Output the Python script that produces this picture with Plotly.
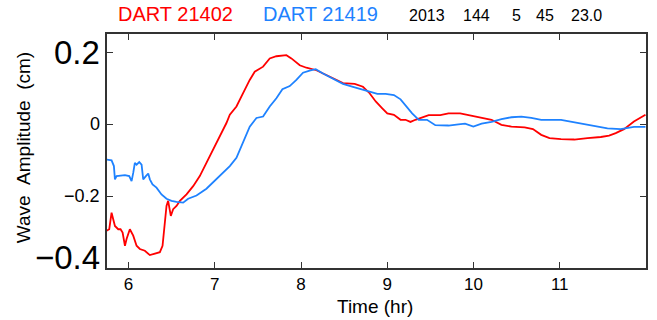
import plotly.graph_objects as go

# DART 21402 (red)
t_21402 = [5.745, 5.776, 5.803, 5.822, 5.842, 5.880, 5.907, 5.931, 5.958, 5.977, 6.015, 6.054,
           6.093, 6.131, 6.189, 6.247, 6.305, 6.363, 6.394, 6.421, 6.440, 6.459, 6.479, 6.490,
           6.517, 6.556, 6.595, 6.672, 6.749, 6.826, 6.903, 6.981, 7.058, 7.135, 7.174, 7.251,
           7.328, 7.405, 7.463, 7.560, 7.637, 7.714, 7.830, 7.888, 7.985, 8.062, 8.178, 8.332,
           8.486, 8.622, 8.718, 8.795, 8.866, 8.942, 9.000, 9.077, 9.154, 9.211, 9.269, 9.326,
           9.403, 9.480, 9.614, 9.710, 9.845, 9.940, 10.094, 10.209, 10.324, 10.440, 10.593,
           10.689, 10.785, 10.881, 11.015, 11.169, 11.322, 11.476, 11.572, 11.649, 11.745,
           11.860, 11.994]
v_21402 = [-0.296, -0.292, -0.246, -0.264, -0.283, -0.292, -0.292, -0.301, -0.338, -0.319, -0.292, -0.310,
           -0.338, -0.347, -0.352, -0.364, -0.361, -0.356, -0.338, -0.273, -0.227, -0.213, -0.236, -0.255,
           -0.236, -0.227, -0.213, -0.195, -0.172, -0.144, -0.107, -0.070, -0.033, 0.004, 0.027, 0.050,
           0.087, 0.124, 0.147, 0.161, 0.184, 0.190, 0.193, 0.184, 0.165, 0.158, 0.151, 0.133,
           0.115, 0.113, 0.105, 0.087, 0.064, 0.045, 0.031, 0.027, 0.013, 0.013, 0.007, 0.013,
           0.020, 0.026, 0.026, 0.031, 0.031, 0.026, 0.020, 0.013, -0.001, -0.006, -0.008,
           -0.013, -0.029, -0.038, -0.041, -0.042, -0.038, -0.035, -0.031, -0.024, -0.013,
           0.008, 0.027]

# DART 21419 (blue)
t_21419 = [5.745, 5.803, 5.830, 5.842, 5.861, 5.900, 5.958, 6.008, 6.035, 6.054, 6.073, 6.093,
           6.124, 6.151, 6.170, 6.201, 6.228, 6.247, 6.278, 6.324, 6.382, 6.440, 6.498, 6.556,
           6.633, 6.691, 6.788, 6.903, 7.019, 7.097, 7.174, 7.251, 7.328, 7.405, 7.483, 7.560,
           7.637, 7.714, 7.784, 7.869, 7.946, 8.023, 8.100, 8.170, 8.255, 8.371, 8.486, 8.602,
           8.718, 8.834, 8.885, 8.981, 9.077, 9.154, 9.211, 9.288, 9.365, 9.461, 9.557, 9.710,
           9.825, 9.902, 9.998, 10.094, 10.209, 10.324, 10.440, 10.555, 10.670, 10.785, 11.015,
           11.169, 11.399, 11.553, 11.706, 11.860, 11.994]
v_21419 = [-0.098, -0.100, -0.116, -0.153, -0.144, -0.142, -0.141, -0.144, -0.158, -0.135, -0.107, -0.112,
           -0.105, -0.112, -0.153, -0.144, -0.137, -0.153, -0.167, -0.176, -0.195, -0.207, -0.213, -0.216,
           -0.218, -0.207, -0.198, -0.179, -0.153, -0.135, -0.116, -0.093, -0.052, -0.006, 0.018, 0.022,
           0.050, 0.073, 0.098, 0.107, 0.124, 0.144, 0.150, 0.154, 0.142, 0.128, 0.113, 0.105,
           0.096, 0.089, 0.085, 0.085, 0.082, 0.070, 0.052, 0.031, 0.013, 0.013, -0.002, -0.003,
           0.000, 0.002, -0.006, 0.002, 0.007, 0.015, 0.020, 0.022, 0.018, 0.013, 0.013,
           0.006, -0.004, -0.011, -0.013, -0.007, -0.007]

x_ticks = [6, 7, 8, 9, 10, 11]
y_ticks = [0.2, 0, -0.2, -0.4]
y_ticklabels = ["0.2", "0", "\u22120.2", "\u22120.4"]
y_ticklabel_sizes = [33, 18, 18, 33]
header_words = ["2013", "144", "5", "45", "23.0"]
header_px = [428, 478, 518, 547, 588]

FONT = "Liberation Sans, Arial, sans-serif"
RED = "#ff0000"
BLUE = "#1e82ff"

L, R, T, B, W, H = 107, 9, 34, 52, 657, 320
PW, PH = W - L - R, H - T - B


def px_to_paper(px, py):
    return (px - L) / PW, (H - B - py) / PH


fig = go.Figure()
fig.add_trace(go.Scatter(x=t_21402, y=v_21402, mode="lines",
                         line=dict(color=RED, width=1.8), name="DART 21402"))
fig.add_trace(go.Scatter(x=t_21419, y=v_21419, mode="lines",
                         line=dict(color=BLUE, width=1.8), name="DART 21419"))

axis_common = dict(showline=True, linecolor="#333333", linewidth=1.5, mirror="allticks",
                   ticks="inside", ticklen=6, tickcolor="#333333", tickwidth=1.2,
                   showgrid=False, zeroline=False)

fig.update_xaxes(range=[5.75, 12.0], tickvals=x_ticks,
                 tickfont=dict(family=FONT, size=17, color="black"),
                 **axis_common)
fig.update_yaxes(range=[-0.4, 0.252], tickvals=y_ticks[:3], showticklabels=False,
                 **axis_common)

annotations = []
for yv, lab, sz in zip(y_ticks, y_ticklabels, y_ticklabel_sizes):
    yy = yv if yv > -0.35 else -0.372
    annotations.append(dict(x=0, xref="paper", xanchor="right", xshift=-5,
                            y=yy, yref="y", yanchor="middle", text=lab, showarrow=False,
                            font=dict(family=FONT, size=sz, color="black")))

ax, ay = px_to_paper(23, 148)
annotations.append(dict(x=ax, y=ay, xref="paper", yref="paper", xanchor="center", yanchor="middle",
                        text="Wave&nbsp;&nbsp;Amplitude&nbsp;&nbsp;(cm)", showarrow=False,
                        textangle=-90,
                        font=dict(family=FONT, size=19, color="black")))
ax, ay = px_to_paper(376, 306)
annotations.append(dict(x=ax, y=ay, xref="paper", yref="paper", xanchor="center", yanchor="middle",
                        text="Time (hr)", showarrow=False,
                        font=dict(family=FONT, size=19, color="black")))

ax, ay = px_to_paper(176, 14)
annotations.append(dict(x=ax, y=ay, xref="paper", yref="paper", xanchor="center", yanchor="middle",
                        text="DART 21402", showarrow=False,
                        font=dict(family=FONT, size=20, color=RED)))
ax, ay = px_to_paper(321, 14)
annotations.append(dict(x=ax, y=ay, xref="paper", yref="paper", xanchor="center", yanchor="middle",
                        text="DART 21419", showarrow=False,
                        font=dict(family=FONT, size=20, color=BLUE)))
for w, hx in zip(header_words, header_px):
    ax, ay = px_to_paper(hx, 15)
    annotations.append(dict(x=ax, y=ay, xref="paper", yref="paper", xanchor="center",
                            yanchor="middle", text=w, showarrow=False,
                            font=dict(family=FONT, size=16, color="black")))

fig.update_layout(width=W, height=H, margin=dict(l=L, r=R, t=T, b=B),
                  plot_bgcolor="white", paper_bgcolor="white", showlegend=False,
                  annotations=annotations)

fig.write_html("out.html")
